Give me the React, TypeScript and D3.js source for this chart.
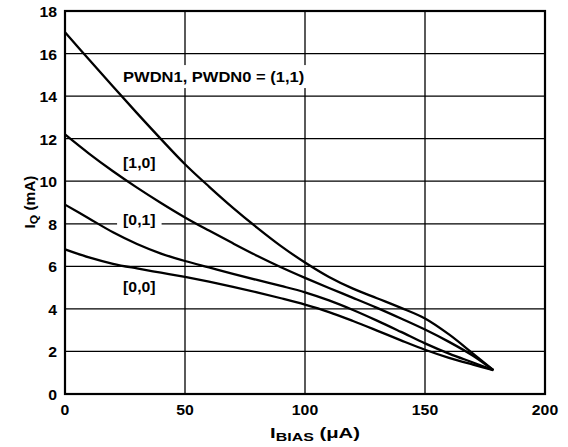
import React from "react";
import * as d3 from "d3";

const xTicks = [0, 50, 100, 150, 200];
const yTicks = [0, 2, 4, 6, 8, 10, 12, 14, 16, 18];

const xs = [0, 10, 20, 30, 40, 50, 60, 70, 80, 90, 100, 110, 120, 130, 140, 150, 160, 170, 178.5];
const s11 = [17.0, 15.72, 14.45, 13.2, 11.98, 10.8, 9.75, 8.75, 7.82, 6.95, 6.18, 5.5, 4.95, 4.5, 4.05, 3.55, 2.8, 1.9, 1.12];
const s10 = [12.2, 11.3, 10.47, 9.7, 8.98, 8.3, 7.68, 7.08, 6.5, 5.96, 5.46, 4.98, 4.52, 4.05, 3.55, 3.03, 2.45, 1.8, 1.12];
const s01 = [8.9, 8.25, 7.6, 7.05, 6.6, 6.25, 5.95, 5.65, 5.36, 5.08, 4.78, 4.4, 3.95, 3.45, 2.92, 2.38, 1.9, 1.48, 1.12];
const s00 = [6.8, 6.42, 6.12, 5.9, 5.7, 5.5, 5.28, 5.04, 4.78, 4.5, 4.2, 3.85, 3.43, 2.98, 2.52, 2.08, 1.7, 1.38, 1.12];
const seriesList = [s11, s10, s01, s00];

const labels = [
  { text: "PWDN1, PWDN0 = (1,1)", x: 24.2, y: 14.66, bg: true, sx: 1.18 },
  { text: "[1,0]", x: 24.2, y: 10.62, bg: false, sx: 1.13 },
  { text: "[0,1]", x: 24.2, y: 7.94, bg: true, sx: 1.13 },
  { text: "[0,0]", x: 24.2, y: 4.79, bg: false, sx: 1.13 },
];

const FONT = "'Liberation Sans', Arial, Helvetica, sans-serif";
const SX = 1.13;

export default function App() {
  const W = 568, H = 447;
  const x = d3.scaleLinear().domain([0, 200]).range([65, 545]);
  const y = d3.scaleLinear().domain([0, 18]).range([394, 11]);
  const line = d3
    .line<number>()
    .x((_, i) => x(xs[i]))
    .y((d) => y(d))
    .curve(d3.curveCatmullRom.alpha(0.5));

  const fs = 14;
  const charW = (t: string, sx: number) => {
    const m: Record<string, number> = { P: 667, W: 944, D: 722, N: 722, "1": 556, "0": 556, ",": 278, " ": 278, "=": 584, "(": 333, ")": 333, "[": 333, "]": 333 };
    let s = 0;
    for (const c of t) s += m[c] ?? 556;
    return (s / 1000) * fs * sx;
  };

  return (
    <svg width={W} height={H} style={{ position: "fixed", left: 0, top: 0, background: "#fff" }} fontFamily={FONT} fontWeight="bold">
      <rect x={0} y={0} width={W} height={H} fill="#fff" />
      {yTicks.slice(1, -1).map((t) => (
        <line key={"gy" + t} x1={x(0)} x2={x(200)} y1={y(t)} y2={y(t)} stroke="#000" strokeWidth={1.3} />
      ))}
      {xTicks.slice(1, -1).map((t) => (
        <line key={"gx" + t} x1={x(t)} x2={x(t)} y1={y(0)} y2={y(18)} stroke="#000" strokeWidth={1.3} />
      ))}
      {labels.map((l) =>
        l.bg ? (
          <rect key={"bg" + l.text} x={x(l.x) - 6} y={y(l.y) - 17} width={charW(l.text, l.sx) + 12} height={23} fill="#fff" />
        ) : null
      )}
      {seriesList.map((s, i) => (
        <path key={"s" + i} d={line(s) || ""} fill="none" stroke="#000" strokeWidth={2.3} strokeLinejoin="round" />
      ))}
      <rect x={x(0)} y={y(18)} width={x(200) - x(0)} height={y(0) - y(18)} fill="none" stroke="#000" strokeWidth={2.2} />
      {labels.map((l) => (
        <text key={"t" + l.text} transform={`translate(${x(l.x)},${y(l.y)}) scale(${l.sx},1)`} fontSize={fs} fill="#000">
          {l.text}
        </text>
      ))}
      {yTicks.map((t) => (
        <text key={"ty" + t} transform={`translate(57,${y(t) + 6}) scale(${SX},1)`} textAnchor="end" fontSize={fs} fill="#000">
          {t}
        </text>
      ))}
      {xTicks.map((t) => (
        <text key={"tx" + t} transform={`translate(${x(t)},415) scale(${SX},1)`} textAnchor="middle" fontSize={fs} fill="#000">
          {t}
        </text>
      ))}
      <text transform={`translate(315,438) scale(1.45,1)`} textAnchor="middle" fontSize={14} fill="#000">
        I<tspan fontSize={11} dy={3}>BIAS</tspan>
        <tspan dy={-3}> (μA)</tspan>
      </text>
      <text transform={`translate(35,202) rotate(-90) scale(1.1,1)`} textAnchor="middle" fontSize={14} fill="#000">
        I<tspan fontSize={11} dy={3}>Q</tspan>
        <tspan dy={-3}> (mA)</tspan>
      </text>
    </svg>
  );
}
